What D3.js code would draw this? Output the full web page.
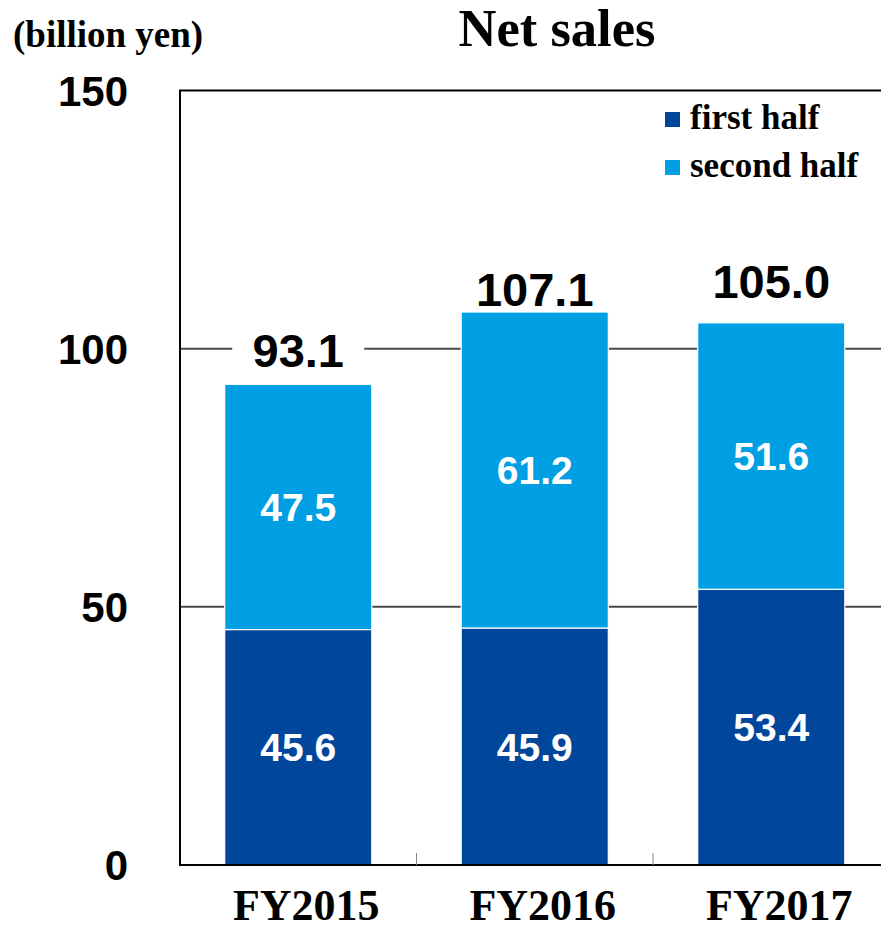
<!DOCTYPE html>
<html>
<head>
<meta charset="utf-8">
<script src="https://cdn.jsdelivr.net/npm/d3@7/dist/d3.min.js"></script>
<style>
  html, body { margin: 0; padding: 0; background: #fff; overflow: hidden; }
  svg { display: block; }
</style>
</head>
<body>
<script>
// Net sales by fiscal year, split into first and second half (billion yen)
const categories = ["FY2015", "FY2016", "FY2017"];
const firstHalf = [45.6, 45.9, 53.4];
const secondHalf = [47.5, 61.2, 51.6];
const totals = [93.1, 107.1, 105.0];
const yTicks = [0, 50, 100, 150];
const seriesNames = ["first half", "second half"];
const colors = ["#00479B", "#009FE3"];

// per-bar lift of the total label above its bar (px)
const totalLift = [17, 6, 25];

const W = 881, H = 929;
const plotLeft = 180, plotTop = 90.5, plotBottom = 865, plotRight = 889.5;

const svg = d3.select("body").append("svg").attr("width", W).attr("height", H);

const x = d3.scaleBand().domain(categories).range([plotLeft, plotRight])
  .paddingInner(0.378).paddingOuter(0.189);
const y = d3.scaleLinear().domain([0, 150]).range([plotBottom, plotTop]);

// gridlines
svg.append("g").selectAll("line").data(yTicks.filter(t => t > 0 && t < 150)).join("line")
  .attr("x1", plotLeft).attr("x2", W).attr("y1", d => y(d)).attr("y2", d => y(d))
  .attr("stroke", "#4a4a4a").attr("stroke-width", 2);

// stacked bars
const stackData = categories.map((c, i) => ({ cat: c, first: firstHalf[i], second: secondHalf[i] }));
const stack = d3.stack().keys(["first", "second"])(stackData);

const barG = svg.append("g");
stack.forEach((layer, li) => {
  barG.append("g").selectAll("rect").data(layer).join("rect")
    .attr("x", d => x(d.data.cat))
    .attr("width", x.bandwidth())
    .attr("y", d => y(d[1]))
    .attr("height", d => y(d[0]) - y(d[1]))
    .attr("fill", colors[li])
    .attr("stroke", "#fff").attr("stroke-width", 1.2);

  // segment value labels
  barG.append("g").selectAll("text").data(layer).join("text")
    .attr("x", d => x(d.data.cat) + x.bandwidth() / 2)
    .attr("y", d => (y(d[0]) + y(d[1])) / 2)
    .attr("dy", "0.36em")
    .attr("text-anchor", "middle")
    .attr("fill", "#fff")
    .style("font-family", "Liberation Sans, Arial, sans-serif")
    .style("font-weight", "bold")
    .style("font-size", "39px")
    .text((d, i) => (li === 0 ? firstHalf[i] : secondHalf[i]).toFixed(1));
});

// axis frame
svg.append("line").attr("x1", plotLeft).attr("x2", plotLeft).attr("y1", plotTop).attr("y2", plotBottom)
  .attr("stroke", "#000").attr("stroke-width", 2);
svg.append("line").attr("x1", plotLeft - 1).attr("x2", W).attr("y1", plotTop).attr("y2", plotTop)
  .attr("stroke", "#000").attr("stroke-width", 2);
svg.append("line").attr("x1", plotLeft - 1).attr("x2", W).attr("y1", plotBottom).attr("y2", plotBottom)
  .attr("stroke", "#000").attr("stroke-width", 2);

// small category separators on the baseline
const seps = categories.slice(1).map(c => x(c) - (x.step() - x.bandwidth()) / 2);
svg.append("g").selectAll("line").data(seps).join("line")
  .attr("x1", d => d).attr("x2", d => d).attr("y1", plotBottom - 12).attr("y2", plotBottom)
  .attr("stroke", "#888").attr("stroke-width", 1);

// total labels with white backing
const totG = svg.append("g");
totals.forEach((v, i) => {
  const cx = x(categories[i]) + x.bandwidth() / 2;
  const by = y(v) - totalLift[i];
  totG.append("rect")
    .attr("x", cx - 66).attr("width", 132)
    .attr("y", by - 40).attr("height", 46)
    .attr("fill", "#fff");
  totG.append("text")
    .attr("x", cx).attr("y", by)
    .attr("text-anchor", "middle")
    .style("font-family", "Liberation Sans, Arial, sans-serif")
    .style("font-weight", "bold")
    .style("font-size", "47px")
    .text(v.toFixed(1));
});

// y tick labels
svg.append("g").selectAll("text").data(yTicks).join("text")
  .attr("x", 128).attr("y", d => y(d)).attr("dy", "0.36em")
  .attr("text-anchor", "end")
  .style("font-family", "Liberation Sans, Arial, sans-serif")
  .style("font-weight", "bold")
  .style("font-size", "42px")
  .text(d => d);

// category labels
svg.append("g").selectAll("text").data(categories).join("text")
  .attr("x", d => x(d) + x.bandwidth() / 2 + 8).attr("y", 920)
  .attr("text-anchor", "middle")
  .style("font-family", "Liberation Serif, Times New Roman, serif")
  .style("font-weight", "bold")
  .style("font-size", "44px")
  .text(d => d);

// title and unit
svg.append("text").attr("x", 557).attr("y", 46).attr("text-anchor", "middle")
  .style("font-family", "Liberation Serif, Times New Roman, serif")
  .style("font-weight", "bold").style("font-size", "52.5px")
  .text("Net sales");
svg.append("text").attr("x", 13).attr("y", 47)
  .style("font-family", "Liberation Serif, Times New Roman, serif")
  .style("font-weight", "bold").style("font-size", "37px")
  .text("(billion yen)");

// legend
const leg = svg.append("g");
seriesNames.forEach((n, i) => {
  leg.append("rect").attr("x", 665).attr("y", 112 + i * 48).attr("width", 15).attr("height", 15)
    .attr("fill", colors[i]);
  leg.append("text").attr("x", 690).attr("y", 129 + i * 48)
    .style("font-family", "Liberation Serif, Times New Roman, serif")
    .style("font-weight", "bold").style("font-size", "35px")
    .text(n);
});
</script>
</body>
</html>
